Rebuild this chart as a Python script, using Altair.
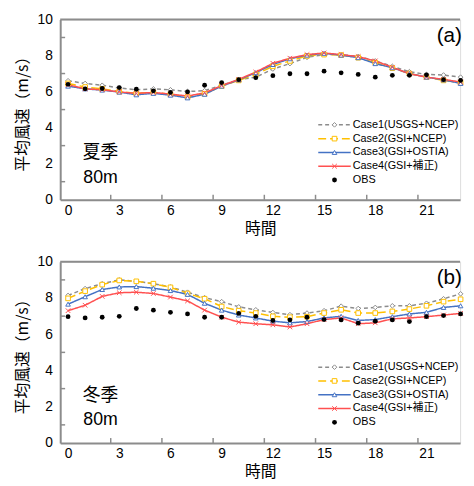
import altair as alt
import pandas as pd

# ---------------- data ----------------
hours = list(range(24))
series_names = ["Case1(USGS+NCEP)", "Case2(GSI+NCEP)", "Case3(GSI+OSTIA)",
                "Case4(GSI+補正)", "OBS"]
x_labels = [0, 3, 6, 9, 12, 15, 18, 21]
x_minor_ticks = [2.5, 5.5, 8.5, 11.5, 14.5, 17.5, 20.5]
y_labels = [0, 2, 4, 6, 8, 10]
y_minor_ticks = [1, 3, 5, 7, 9]

summer_case1 = [6.60, 6.45, 6.35, 6.20, 6.10, 6.15, 6.10, 6.00, 6.05, 6.35, 6.65, 6.80,
                7.25, 7.55, 7.90, 8.05, 8.05, 7.95, 7.70, 7.40, 7.10, 6.95, 6.92, 6.80]
summer_case2 = [6.45, 6.25, 6.15, 6.00, 5.90, 5.95, 5.85, 5.70, 5.88, 6.30, 6.62, 6.95,
                7.40, 7.70, 7.98, 8.05, 8.02, 7.88, 7.60, 7.30, 7.00, 6.80, 6.62, 6.50]
summer_case3 = [6.30, 6.15, 6.08, 5.97, 5.82, 5.90, 5.80, 5.65, 5.85, 6.30, 6.65, 7.05,
                7.50, 7.82, 8.02, 8.12, 8.02, 7.88, 7.55, 7.32, 7.00, 6.80, 6.65, 6.45]
summer_case4 = [6.38, 6.15, 6.10, 5.98, 5.90, 5.95, 5.86, 5.75, 5.93, 6.33, 6.68, 7.08,
                7.57, 7.85, 8.05, 8.14, 8.05, 7.94, 7.70, 7.35, 6.99, 6.80, 6.68, 6.53]
summer_obs = [6.40, 6.15, 6.17, 6.22, 6.13, 6.04, 5.95, 5.98, 6.35, 6.50, 6.66, 6.77,
              6.88, 6.99, 6.99, 7.13, 7.04, 6.95, 6.80, 6.90, 6.90, 6.93, 6.66, 6.62]

winter_case1 = [8.14, 8.52, 8.79, 9.00, 8.92, 8.79, 8.61, 8.32, 8.02, 7.80, 7.51, 7.35,
                7.20, 7.08, 7.17, 7.30, 7.55, 7.42, 7.48, 7.57, 7.57, 7.71, 7.96, 8.23]
winter_case2 = [7.98, 8.38, 8.74, 8.97, 8.92, 8.79, 8.59, 8.25, 7.96, 7.53, 7.30, 7.17,
                6.99, 6.94, 6.97, 7.17, 7.35, 7.17, 7.17, 7.26, 7.39, 7.57, 7.80, 7.93]
winter_case3 = [7.66, 8.07, 8.47, 8.61, 8.63, 8.54, 8.41, 8.20, 7.71, 7.33, 7.06, 6.90,
                6.72, 6.63, 6.70, 6.90, 6.99, 6.76, 6.81, 6.97, 7.12, 7.21, 7.48, 7.57]
winter_case4 = [7.30, 7.60, 8.09, 8.29, 8.32, 8.25, 8.05, 7.84, 7.33, 6.94, 6.67, 6.58,
                6.52, 6.40, 6.58, 6.81, 6.90, 6.58, 6.63, 6.85, 6.90, 6.97, 7.06, 7.15]
winter_obs = [6.97, 6.90, 6.94, 6.99, 7.42, 7.33, 7.21, 7.12, 6.94, 6.94, 7.15, 6.99,
              6.76, 6.79, 6.94, 6.81, 6.79, 6.61, 6.72, 6.79, 6.70, 6.97, 7.03, 7.12]

# ---------------- style ----------------
case_names = series_names[:4]
case_colors = ["#8c8c8c", "#ffc000", "#4472c4", "#ff5050"]
case_dashes = [[4, 3], [8, 4], [1, 0], [1, 0]]
case_widths = [1.5, 1.5, 2, 2]
case_shapes = ["diamond", "square", "triangle-up", "M-1,-1L1,1M-1,1L1,-1"]
GRAY = "#8c8c8c"
NUM_FONT = "Liberation Sans, Noto Sans CJK JP"
CJK_FONT = "Noto Sans CJK JP"
W = 406


def panel(values, season, tag, H):
    rows = []
    for name, vals in zip(series_names, values):
        for h, v in zip(hours, vals):
            rows.append({"hour": h, "value": v, "series": name})
    df = pd.DataFrame(rows)

    x_axis = alt.Axis(values=x_labels, ticks=False, grid=False,
                      domainColor=GRAY, domainWidth=2,
                      labelFont=NUM_FONT, labelFontSize=14, labelColor="black",
                      labelPadding=4, title="時間", titleFont=CJK_FONT,
                      titleFontSize=16, titleFontWeight="normal",
                      titleColor="black", titlePadding=3)
    y_axis = alt.Axis(values=y_labels, ticks=False, grid=False,
                      domainColor=GRAY, domainWidth=2,
                      labelFont=NUM_FONT, labelFontSize=14, labelColor="black",
                      labelPadding=8, title="平均風速（m/s）", titleFont=CJK_FONT,
                      titleFontSize=16, titleFontWeight="normal",
                      titleColor="black", titlePadding=7)
    x_scale = alt.Scale(domain=[-0.46, 22.97], nice=False, zero=False)
    y_scale = alt.Scale(domain=[0, 10], nice=False, zero=False)
    X = alt.X("hour:Q", scale=x_scale, axis=x_axis)
    Y = alt.Y("value:Q", scale=y_scale, axis=y_axis)

    color = alt.Color("series:N", scale=alt.Scale(domain=case_names, range=case_colors), legend=None)
    stroke = alt.Stroke("series:N", scale=alt.Scale(domain=case_names, range=case_colors), legend=None)
    dash = alt.StrokeDash("series:N", scale=alt.Scale(domain=case_names, range=case_dashes), legend=None)
    width = alt.StrokeWidth("series:N", scale=alt.Scale(domain=case_names, range=case_widths), legend=None)
    shape = alt.Shape("series:N", scale=alt.Scale(domain=case_names, range=case_shapes), legend=None)

    base = alt.Chart(df)
    cases = base.transform_filter(alt.datum.series != "OBS")
    lines = cases.mark_line().encode(x=X, y=Y, color=color, strokeDash=dash, strokeWidth=width)
    pts = cases.mark_point(fill="white", opacity=1, size=22, strokeWidth=1).encode(
        x=X, y=Y, stroke=stroke, shape=shape)
    obs = base.transform_filter(alt.datum.series == "OBS").mark_circle(
        size=24, color="black", opacity=1).encode(x=X, y=Y)

    xt = alt.Chart(pd.DataFrame({"hour": x_minor_ticks})).mark_rule(color=GRAY, strokeWidth=1.5).encode(
        x=X, y=alt.value(H), y2=alt.value(H - 5))
    yt = alt.Chart(pd.DataFrame({"value": y_minor_ticks})).mark_rule(color=GRAY, strokeWidth=1.5).encode(
        y=Y, x=alt.value(0), x2=alt.value(5))
    border = alt.Chart(pd.DataFrame({"value": [10]})).mark_rule(color=GRAY, strokeWidth=2).encode(
        y=Y)

    ann = pd.DataFrame({"season": [season], "height": ["80m"], "tag": [tag]})
    t_season = alt.Chart(ann).mark_text(font=CJK_FONT, fontSize=18, color="black").encode(
        text="season:N", x=alt.value(41), y=alt.value(136))
    t_height = alt.Chart(ann).mark_text(font=NUM_FONT, fontSize=18, color="black").encode(
        text="height:N", x=alt.value(41), y=alt.value(161))
    t_tag = alt.Chart(ann).mark_text(font=NUM_FONT, fontSize=21, color="black").encode(
        text="tag:N", x=alt.value(395), y=alt.value(17))

    main = alt.layer(xt, yt, border, lines, pts, obs, t_season, t_height, t_tag)

    leg_df = pd.DataFrame({"series": series_names})
    LY = alt.Y("series:N", scale=alt.Scale(domain=series_names, range=[100, 170], padding=0), axis=None)
    leg_base = alt.Chart(leg_df)
    leg_cases = leg_base.transform_filter(alt.datum.series != "OBS")
    leg_lines = leg_cases.mark_rule().encode(
        x=alt.value(262), x2=alt.value(295), y=LY, color=color, strokeDash=dash, strokeWidth=width)
    leg_pts = leg_cases.mark_point(fill="white", opacity=1, size=22, strokeWidth=1).encode(
        x=alt.value(278.5), y=LY, stroke=stroke, shape=shape)
    leg_obs = leg_base.transform_filter(alt.datum.series == "OBS").mark_circle(
        size=24, color="black", opacity=1).encode(x=alt.value(278.5), y=LY)
    leg_text = leg_base.mark_text(align="left", baseline="middle", font=NUM_FONT,
                                  fontSize=11, color="black").encode(
        x=alt.value(297), y=LY, text="series:N")
    legend = alt.layer(leg_lines, leg_pts, leg_obs, leg_text)

    return alt.layer(main, legend).resolve_scale(y="independent").properties(width=W, height=H)


top = panel([summer_case1, summer_case2, summer_case3, summer_case4, summer_obs], "夏季", "(a)", 183)
bottom = panel([winter_case1, winter_case2, winter_case3, winter_case4, winter_obs], "冬季", "(b)", 184)

chart = alt.vconcat(top, bottom, spacing=17).properties(
    padding={"left": 5, "top": 0, "right": 0, "bottom": 0}
).configure_view(stroke=None).configure(background="white")

chart.save("out.html", embed_options={"renderer": "svg", "actions": False})
